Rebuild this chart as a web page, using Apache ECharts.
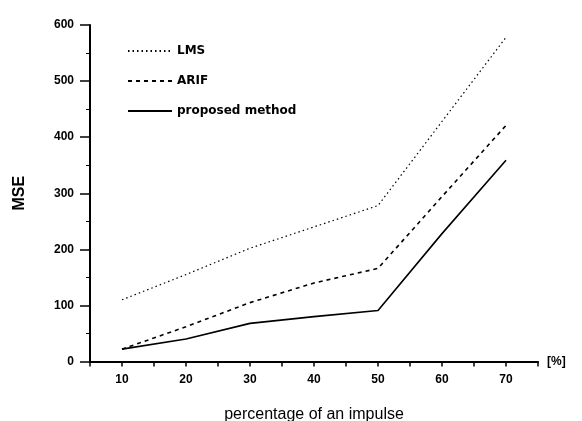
<!DOCTYPE html>
<html>
<head>
<meta charset="utf-8">
<script src="https://cdn.jsdelivr.net/npm/echarts@6/dist/echarts.min.js"></script>
<style>html,body{margin:0;padding:0;background:#fff}#c{width:582px;height:421px}</style>
</head>
<body>
<div id="c"></div>
<script>
var xValues = [10, 20, 30, 40, 50, 60, 70];
var lmsValues = [110, 155, 202, 240, 278, 428, 578];
var arifValues = [22, 62, 105, 140, 166, 294, 421];
var proposedValues = [22, 40, 68, 80, 91, 228, 359];
var seriesNames = ['LMS', 'ARIF', 'proposed method'];
var xTitle = 'percentage of an impulse';
var yTitle = 'MSE';
var xUnit = '[%]';

function pairs(vals) { return xValues.map(function (x, i) { return [x, vals[i]]; }); }

var chart = echarts.init(document.getElementById('c'), null, {renderer: 'canvas'});
var tickFont = {color: '#000', fontFamily: 'Liberation Sans', fontWeight: 'bold', fontSize: 12};
chart.setOption({
  animation: false,
  backgroundColor: '#fff',
  grid: {left: 90, right: 44, top: 25, bottom: 59.5},
  legend: {
    orient: 'vertical', left: 122, top: 40, itemWidth: 44, itemHeight: 14, itemGap: 18,
    itemStyle: {opacity: 0},
    textStyle: {color: '#000', fontFamily: 'DejaVu Sans', fontWeight: 'bold', fontSize: 12},
    data: seriesNames
  },
  xAxis: {
    type: 'value', min: 5, max: 75, interval: 5,
    name: xUnit, nameLocation: 'end', nameGap: 9,
    nameTextStyle: {color: '#000', fontFamily: 'Liberation Sans', fontWeight: 'bold', fontSize: 12},
    axisLine: {lineStyle: {color: '#000', width: 2}},
    axisTick: {length: 5, lineStyle: {color: '#000', width: 1.5}},
    axisLabel: Object.assign({margin: 12, formatter: function (v) { return (v % 10 === 0 && v >= 10 && v <= 70) ? String(v) : ''; }}, tickFont),
    splitLine: {show: false}
  },
  yAxis: {
    type: 'value', min: 0, max: 600, interval: 100,
    name: yTitle, nameLocation: 'middle', nameRotate: 90, nameGap: 62,
    nameTextStyle: {color: '#000', fontFamily: 'Liberation Sans', fontWeight: 'bold', fontSize: 16},
    axisLine: {show: true, lineStyle: {color: '#000', width: 2}},
    axisTick: {show: true, length: 10, lineStyle: {color: '#000', width: 1.5}},
    minorTick: {show: true, splitNumber: 2, length: 4, lineStyle: {color: '#000', width: 1}},
    axisLabel: Object.assign({margin: 16}, tickFont),
    splitLine: {show: false}
  },
  graphic: [{
    type: 'text', x: 314, y: 415,
    style: {text: xTitle, fill: '#000', font: '16px "Liberation Sans"', textAlign: 'center', textVerticalAlign: 'middle'}
  }],
  series: [
    {name: seriesNames[0], type: 'line', data: pairs(lmsValues), showSymbol: false, symbol: 'none',
     lineStyle: {color: '#000', width: 1.2, type: [1.5, 3]}, itemStyle: {color: '#000'}},
    {name: seriesNames[1], type: 'line', data: pairs(arifValues), showSymbol: false, symbol: 'none',
     lineStyle: {color: '#000', width: 1.6, type: [4, 4]}, itemStyle: {color: '#000'}},
    {name: seriesNames[2], type: 'line', data: pairs(proposedValues), showSymbol: false, symbol: 'none',
     lineStyle: {color: '#000', width: 1.6, type: 'solid'}, itemStyle: {color: '#000'}}
  ]
});
</script>
</body>
</html>
